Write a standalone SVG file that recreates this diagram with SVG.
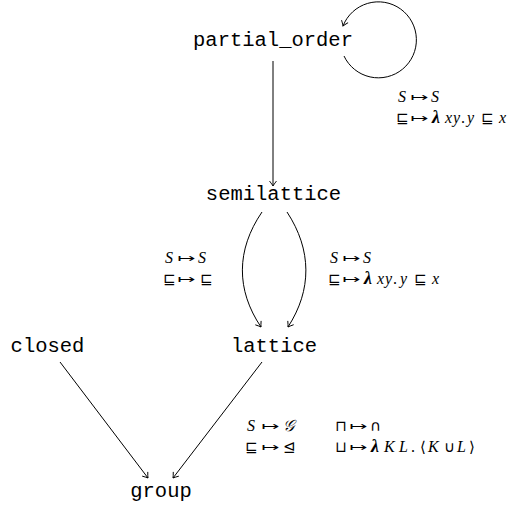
<svg xmlns="http://www.w3.org/2000/svg" width="519" height="508" viewBox="0 0 519 508">
  <style>
    .node { font-family: "Liberation Mono", "DejaVu Sans Mono", monospace; font-size: 20.5px; fill: #000; text-anchor: middle; }
    .edge { fill: none; stroke: #000; stroke-width: 1; marker-end: url(#arrow); }
    .math { font-family: "Liberation Serif", "DejaVu Serif", serif; font-size: 16px; fill: #000; }
    .it { font-style: italic; }
    .sym { font-family: "DejaVu Sans", sans-serif; font-size: 15px; font-style: normal; }
    .lam { font-style: italic; font-weight: bold; font-size: 18px; }
    .arr { font-family: "DejaVu Sans", sans-serif; font-size: 12px; }
  </style>
  <defs>
    <marker id="arrow" viewBox="-6 -5 8 10" markerWidth="8" markerHeight="10" refX="0" refY="0" orient="auto" markerUnits="userSpaceOnUse">
      <path d="M -5,-3.5 Q -1.5,-0.8 0,0 Q -1.5,0.8 -5,3.5" fill="none" stroke="#000" stroke-width="0.9"/>
    </marker>
    <!-- maps-to arrow, stretched to a full em like the math font's -->
    <text id="mapsto" class="arr" textLength="18" lengthAdjust="spacingAndGlyphs">↦</text>
  </defs>

  <!-- connectors -->
  <g id="edges">
    <path class="edge" d="M 344,56 A 38 38 0 1 0 343,26"/>
    <path class="edge" d="M 273,61 L 273,186"/>
    <path class="edge" d="M 262,212 C 236,250 236,290 261,327"/>
    <path class="edge" d="M 287,212 C 312,250 312,290 288,327"/>
    <path class="edge" d="M 60,362 L 148,478"/>
    <path class="edge" d="M 262,362 L 173,478"/>
  </g>

  <!-- edge labels -->
  <g id="label-partial_order-loop" class="math">
    <text y="102"><tspan class="it" x="398">S</tspan><tspan class="it" x="431">S</tspan></text>
    <use href="#mapsto" x="410" y="101"/>
    <text y="123"><tspan class="sym" x="396">⊑</tspan><tspan class="lam" x="432">λ</tspan><tspan class="it" x="445">x</tspan><tspan class="it" x="453">y</tspan><tspan x="461">.</tspan><tspan class="it" x="467">y</tspan><tspan class="sym" x="481">⊑</tspan><tspan class="it" x="499">x</tspan></text>
    <use href="#mapsto" x="410" y="122"/>
  </g>

  <g id="label-semilattice-lattice-left" class="math">
    <text y="263"><tspan class="it" x="165">S</tspan><tspan class="it" x="198">S</tspan></text>
    <use href="#mapsto" x="177" y="262"/>
    <text y="284"><tspan class="sym" x="163">⊑</tspan><tspan class="sym" x="200">⊑</tspan></text>
    <use href="#mapsto" x="177" y="283"/>
  </g>

  <g id="label-semilattice-lattice-right" class="math">
    <text y="263"><tspan class="it" x="330">S</tspan><tspan class="it" x="363">S</tspan></text>
    <use href="#mapsto" x="342" y="262"/>
    <text y="284"><tspan class="sym" x="328">⊑</tspan><tspan class="lam" x="364">λ</tspan><tspan class="it" x="377">x</tspan><tspan class="it" x="385">y</tspan><tspan x="393">.</tspan><tspan class="it" x="400">y</tspan><tspan class="sym" x="414">⊑</tspan><tspan class="it" x="432">x</tspan></text>
    <use href="#mapsto" x="342" y="283"/>
  </g>

  <g id="label-lattice-group" class="math">
    <text y="431"><tspan class="it" x="247">S</tspan><tspan class="it" x="283">𝒢</tspan></text>
    <use href="#mapsto" x="261" y="430"/>
    <text y="452"><tspan class="sym" x="245">⊑</tspan><tspan class="sym" x="283">⊴</tspan></text>
    <use href="#mapsto" x="261" y="451"/>

    <text y="431"><tspan class="sym" x="335">⊓</tspan><tspan class="sym" x="370">∩</tspan></text>
    <use href="#mapsto" x="349" y="430"/>
    <text y="452"><tspan class="sym" x="335">⊔</tspan><tspan class="lam" x="371">λ</tspan><tspan class="it" x="384">K</tspan><tspan class="it" x="399">L</tspan><tspan x="411">.</tspan><tspan class="sym" x="420">⟨</tspan><tspan class="it" x="428">K</tspan><tspan class="sym" x="444">∪</tspan><tspan class="it" x="457">L</tspan><tspan class="sym" x="469">⟩</tspan></text>
    <use href="#mapsto" x="349" y="451"/>
  </g>

  <!-- nodes -->
  <g id="partial_order"><text class="node" x="273" y="46">partial_order</text></g>
  <g id="semilattice"><text class="node" x="273.5" y="200">semilattice</text></g>
  <g id="closed"><text class="node" x="47.5" y="352">closed</text></g>
  <g id="lattice"><text class="node" x="274" y="352">lattice</text></g>
  <g id="group"><text class="node" x="161" y="497">group</text></g>
</svg>
